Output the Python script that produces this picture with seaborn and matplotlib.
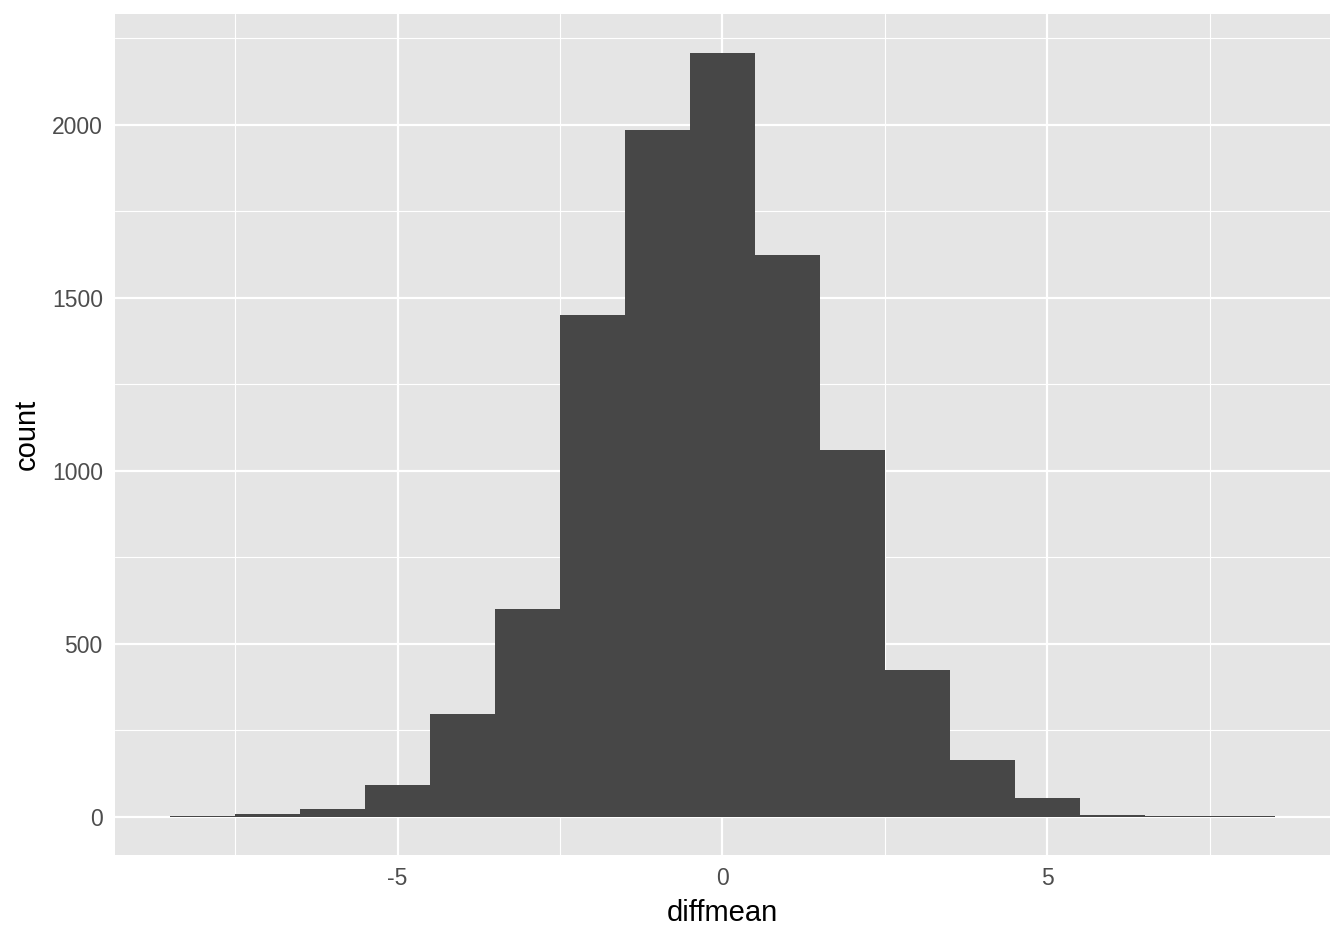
import numpy as np
import pandas as pd
import matplotlib
matplotlib.use("Agg")
import matplotlib.pyplot as plt
import seaborn as sns

# bin centres (width 1) and counts
bin_centers = [-8, -7, -6, -5, -4, -3, -2, -1, 0, 1, 2, 3, 4, 5, 6, 7, 8]
counts = [1, 8, 22, 93, 296, 601, 1449, 1984, 2208, 1624, 1061, 424, 164, 54, 5, 1, 1]
x_ticks = [-5, 0, 5]
y_ticks = [0, 500, 1000, 1500, 2000]

df = pd.DataFrame({"diffmean": bin_centers, "n": counts})

sns.set_theme(style="darkgrid")
plt.rcParams['font.family'] = ['Liberation Sans', 'DejaVu Sans']

fig = plt.figure(figsize=(13.44, 9.4), dpi=100)
ax = fig.add_axes([115 / 1344, 1 - 855 / 940, (1330 - 115) / 1344, (855 - 14) / 940])
ax.set_facecolor("#E5E5E5")

sns.histplot(data=df, x="diffmean", weights="n", binwidth=1, binrange=(-8.5, 8.5),
             color="#474747", alpha=1, linewidth=0, ax=ax)

ax.set_xlim(-9.35, 9.35)
ax.set_ylim(-110.5, 2320.5)
ax.set_xticks(x_ticks)
ax.set_xticklabels([str(t) for t in x_ticks])
ax.set_yticks(y_ticks)
ax.set_xticks([-7.5, -2.5, 2.5, 7.5], minor=True)
ax.set_yticks([250, 750, 1250, 1750, 2250], minor=True)

ax.grid(which="major", color="white", linewidth=1.6)
ax.grid(which="minor", color="white", linewidth=0.8)
ax.set_axisbelow(True)
for s in ax.spines.values():
    s.set_visible(False)

ax.tick_params(axis="both", which="major", length=5.3, width=1.6, color="#333333",
               labelcolor="#4D4D4D", labelsize=16.5, pad=3.5)
ax.tick_params(axis="both", which="minor", length=0)

ax.set_xlabel("diffmean", fontsize=21, color="black", labelpad=6)
ax.set_ylabel("count", fontsize=21, color="black", labelpad=8)

fig.savefig("out.png", dpi=100, facecolor="white")
